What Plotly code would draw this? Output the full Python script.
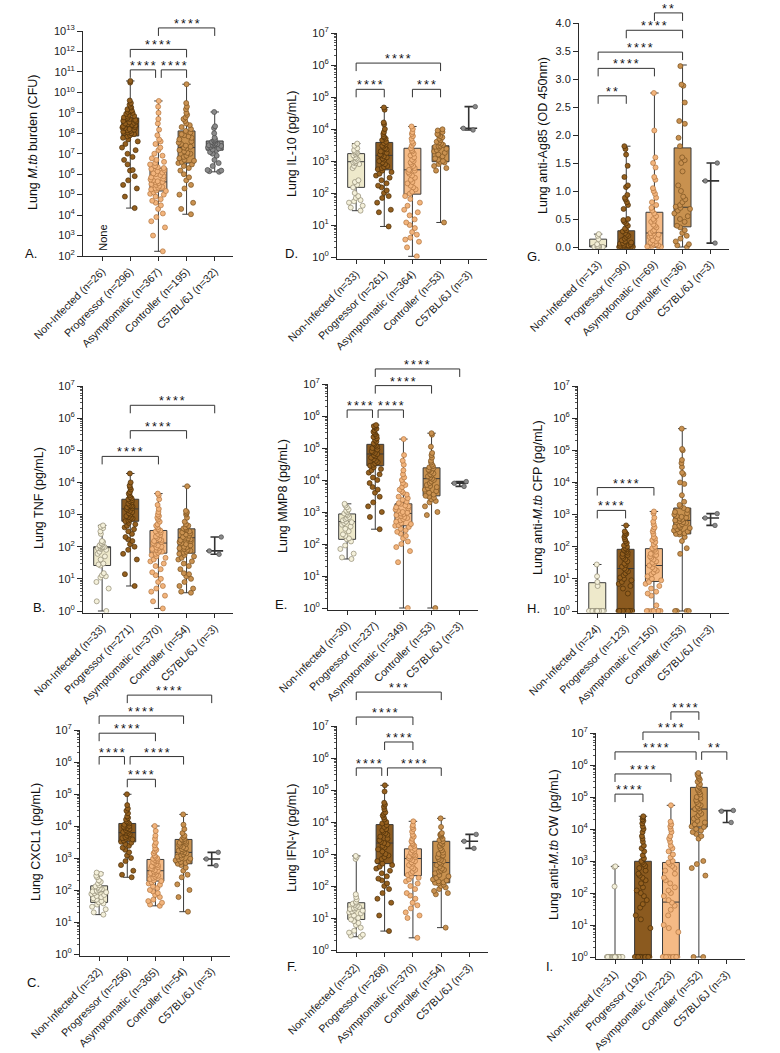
import math
import plotly.graph_objects as go

W, H = 780, 1053
FONT = "Arial, 'Liberation Sans', Helvetica, sans-serif"

# ---------------- category labels ----------------
A_labels = ["Non-Infected (n=26)", "Progressor (n=296)", "Asymptomatic (n=367)", "Controller (n=195)", "C57BL/6J (n=32)"]
B_labels = ["Non-Infected (n=33)", "Progressor (n=271)", "Asymptomatic (n=370)", "Controller (n=54)", "C57BL/6J (n=3)"]
C_labels = ["Non-Infected (n=32)", "Progressor (n=256)", "Asymptomatic (n=365)", "Controller (n=54)", "C57BL/6J (n=3)"]
D_labels = ["Non-Infected (n=33)", "Progressor (n=261)", "Asymptomatic (n=364)", "Controller (n=53)", "C57BL/6J (n=3)"]
E_labels = ["Non-Infected (n=30)", "Progressor (n=237)", "Asymptomatic (n=349)", "Controller (n=53)", "C57BL/6J (n=3)"]
F_labels = ["Non-Infected (n=32)", "Progressor (n=268)", "Asymptomatic (n=370)", "Controller (n=54)", "C57BL/6J (n=3)"]
G_labels = ["Non-Infected (n=13)", "Progressor (n=90)", "Asymptomatic (n=69)", "Controller (n=36)", "C57BL/6J (n=3)"]
H_labels = ["Non-Infected (n=24)", "Progressor (n=123)", "Asymptomatic (n=150)", "Controller (n=53)", "C57BL/6J (n=3)"]
I_labels = ["Non-Infected (n=31)", "Progressor (192)", "Asymptomatic (n=223)", "Controller (n=52)", "C57BL/6J (n=3)"]

# ---------------- box statistics: [Non, Prog, Asym, Ctrl, C57] ----------------
A_q1 = [None, 7.4e7, 1.5e5, 3.5e6, 1.5e7]
A_med = [None, 2.2e8, 4.2e5, 2.0e7, 2.6e7]
A_q3 = [None, 5.6e8, 2.0e6, 1.3e8, 4.2e7]
A_min = [None, 2.2e4, 1.7e2, 1.1e4, 1.3e6]
A_max = [None, 3.6e10, 3.8e9, 2.5e10, 1.1e9]

B_q1 = [26, 620, 63, 63, 74]
B_med = [95, 1500, 130, 190, 74]
B_q3 = [100, 3000, 320, 360, 74]
B_min = [1, 6, 1.2, 3.7, 58]
B_max = [460, 1.9e4, 4.5e3, 7.6e3, 200]

C_q1 = [41, 3.2e3, 190, 660, 930]
C_med = [89, 6.2e3, 400, 1.5e3, 930]
C_q3 = [135, 1.2e4, 900, 3.8e3, 930]
C_min = [17, 250, 32, 21, 580]
C_max = [350, 9.8e4, 1.0e4, 2.3e4, 1.5e3]

D_q1 = [150, 530, 92, 950, 1.05e4]
D_med = [950, 1.5e3, 530, 2.8e3, 1.05e4]
D_q3 = [1.7e3, 3.8e3, 2.5e3, 3.0e3, 1.05e4]
D_min = [28, 9, 1.05, 12, 9.3e3]
D_max = [3.5e3, 4.7e4, 1.2e4, 9.8e3, 5.0e4]

E_q1 = [140, 2.8e4, 370, 3.2e3, 7.9e3]
E_med = [500, 6.5e4, 900, 1.1e4, 7.9e3]
E_q3 = [870, 1.3e5, 1.8e3, 2.4e4, 7.9e3]
E_min = [34, 290, 1, 1, 6.3e3]
E_max = [1.8e3, 5.2e5, 1.9e5, 2.9e5, 8.9e3]

F_q1 = [9, 500, 210, 126, 2.5e3]
F_med = [20, 2.2e3, 720, 540, 2.5e3]
F_q3 = [30, 8.3e3, 1.45e3, 2.5e3, 2.5e3]
F_min = [2.6, 3.9, 2.4, 5, 1.5e3]
F_max = [870, 1.4e5, 1.05e4, 1.3e4, 4.1e3]

G_q1 = [0.0, 0.0, 0.0, 0.36, 1.18]
G_med = [0.01, 0.07, 0.25, 0.71, 1.18]
G_q3 = [0.14, 0.29, 0.62, 1.77, 1.18]
G_min = [0.0, 0.0, 0.0, 0.0, 0.07]
G_max = [0.23, 1.80, 2.75, 3.25, 1.50]

H_q1 = [1, 1, 8.3, 250, 780]
H_med = [1, 21, 26, 660, 780]
H_q3 = [7.6, 83, 87, 1.6e3, 780]
H_min = [1, 1, 1, 1, 460]
H_max = [28, 460, 1.25e3, 4.7e5, 1.07e3]

I_q1 = [1, 1, 1, 1.15e4, 3.7e4]
I_med = [1, 1, 52, 4.2e4, 3.7e4]
I_q3 = [1, 980, 900, 2.0e5, 3.7e4]
I_min = [1, 1, 1, 1, 1.6e4]
I_max = [680, 2.5e4, 5.5e4, 5.6e5, 3.8e4]

# ---------------- individual points (read approximately) ----------------
A_non = []
A_prog = [3.6e10, 3e10, 4e9, 3e9, 2.5e9, 2e9, 1.8e9, 1.5e9, 1.3e9, 1.2e9, 1.1e9, 1e9, 9e8, 8e8, 7e8, 6.5e8,
          6e8, 5.5e8, 5e8, 4.5e8, 4e8, 3.8e8, 3.5e8, 3.2e8, 3e8, 2.8e8, 2.6e8, 2.4e8, 2.2e8, 2e8, 1.9e8, 1.8e8,
          1.6e8, 1.5e8, 1.4e8, 1.3e8, 1.2e8, 1.1e8, 1e8, 9e7, 8e7, 7e7, 6e7, 5e7, 4e7, 3e7, 2e7, 1.5e7, 1e7,
          7e6, 5e6, 3e6, 1.6e6, 1.5e6, 8e5, 5e5, 3e5, 2e5, 8e4, 2.2e4]
A_asym = [3.8e9, 2e9, 1e9, 5e8, 3e8, 1.5e8, 8e7, 5e7, 4e7, 3e7, 2e7, 1.5e7, 1e7, 8e6, 6e6, 5e6, 4e6, 3.5e6,
          3e6, 2.5e6, 2.2e6, 2e6, 1.8e6, 1.6e6, 1.4e6, 1.2e6, 1.1e6, 1e6, 9e5, 8e5, 7e5, 6e5, 5.5e5, 5e5, 4.5e5,
          4.2e5, 4e5, 3.6e5, 3.3e5, 3e5, 2.7e5, 2.4e5, 2.2e5, 2e5, 1.8e5, 1.6e5, 1.5e5, 1.3e5, 1.1e5, 1e5, 8e4,
          6e4, 5e4, 4e4, 3e4, 2e4, 1.2e4, 8e3, 5e3, 2.5e3, 1e3, 1.7e2]
A_ctrl = [2.5e10, 3e9, 2e9, 1.5e9, 1e9, 8e8, 6e8, 5e8, 4e8, 3e8, 2.5e8, 2e8, 1.6e8, 1.3e8, 1.1e8, 9e7, 8e7,
          7e7, 6e7, 5e7, 4e7, 3.5e7, 3e7, 2.5e7, 2.2e7, 2e7, 1.8e7, 1.5e7, 1.3e7, 1.1e7, 1e7, 8e6, 7e6, 6e6,
          5e6, 4.5e6, 4e6, 3.5e6, 3e6, 2.5e6, 2e6, 1.5e6, 1e6, 7e5, 5e5, 3e5, 2e5, 1e5, 4e4, 2e4, 1.1e4]
A_c57 = [1.1e9, 2.2e8, 1.8e8, 1e8, 6e7, 5e7, 4.5e7, 4e7, 3.8e7, 3.5e7, 3.2e7, 3e7, 2.8e7, 2.7e7, 2.6e7, 2.5e7,
         2.4e7, 2.2e7, 2e7, 1.8e7, 1.6e7, 1.5e7, 1.2e7, 1e7, 8e6, 5e6, 3.5e6, 2.5e6, 1.6e6, 1.5e6, 1.4e6, 1.3e6]

B_non = [460, 420, 380, 300, 250, 150, 140, 130, 120, 110, 105, 100, 98, 95, 92, 90, 85, 80, 70, 60, 50, 40,
         30, 28, 26, 15, 13, 12, 11, 8, 5, 2, 1]
B_prog = [1.9e4, 1e4, 8e3, 7e3, 6e3, 5e3, 4.5e3, 4e3, 3.5e3, 3.2e3, 3e3, 2.8e3, 2.6e3, 2.4e3, 2.2e3, 2e3, 1.9e3,
          1.8e3, 1.7e3, 1.6e3, 1.5e3, 1.4e3, 1.3e3, 1.2e3, 1.1e3, 1e3, 900, 850, 800, 750, 700, 650, 620, 550,
          500, 450, 400, 350, 300, 250, 200, 170, 150, 120, 100, 80, 60, 40, 14, 6]
B_asym = [4.5e3, 4e3, 3e3, 2e3, 1.5e3, 1.2e3, 1e3, 900, 800, 700, 600, 500, 450, 400, 350, 320, 300, 280, 250,
          230, 210, 190, 170, 160, 150, 140, 130, 120, 110, 100, 95, 90, 85, 80, 75, 70, 65, 60, 55, 50, 45, 40,
          35, 30, 25, 20, 16, 13, 10, 8, 6, 5, 4, 3, 2, 1.2]
B_ctrl = [7.6e3, 1.3e3, 1.2e3, 1.1e3, 1e3, 800, 600, 500, 450, 400, 370, 350, 330, 300, 280, 260, 240, 220, 200,
          190, 180, 170, 160, 150, 140, 130, 120, 110, 100, 95, 90, 85, 80, 75, 70, 65, 60, 55, 50, 45, 40, 35,
          30, 25, 20, 15, 14, 12, 10, 8, 6, 5, 4, 3.7]
B_c57 = [200, 74, 58]

C_non = [350, 320, 280, 250, 200, 180, 160, 140, 130, 120, 110, 105, 100, 95, 90, 88, 85, 80, 75, 70, 65, 60,
         55, 50, 45, 41, 38, 35, 30, 25, 20, 17]
C_prog = [9.8e4, 4.5e4, 3.5e4, 3e4, 2.5e4, 2e4, 1.8e4, 1.6e4, 1.4e4, 1.3e4, 1.2e4, 1.1e4, 1e4, 9.5e3, 9e3,
          8.5e3, 8e3, 7.5e3, 7e3, 6.5e3, 6.2e3, 6e3, 5.5e3, 5e3, 4.5e3, 4.2e3, 4e3, 3.8e3, 3.5e3, 3.2e3, 3e3,
          2.7e3, 2.4e3, 2.1e3, 1.8e3, 1.5e3, 1.2e3, 1e3, 800, 600, 400, 300, 250]
C_asym = [1e4, 7e3, 5e3, 4e3, 3e3, 2.5e3, 2e3, 1.8e3, 1.6e3, 1.4e3, 1.2e3, 1.1e3, 1e3, 950, 900, 850, 800, 750,
          700, 650, 600, 560, 520, 480, 450, 420, 400, 380, 360, 340, 320, 300, 280, 260, 240, 220, 200, 190,
          175, 160, 145, 130, 115, 100, 90, 80, 70, 60, 50, 45, 40, 35, 32]
C_ctrl = [2.3e4, 1.1e4, 8e3, 6e3, 5e3, 4.5e3, 4e3, 3.8e3, 3.6e3, 3.4e3, 3.2e3, 3e3, 2.8e3, 2.6e3, 2.4e3, 2.2e3,
          2e3, 1.9e3, 1.8e3, 1.7e3, 1.6e3, 1.5e3, 1.4e3, 1.3e3, 1.2e3, 1.1e3, 1e3, 950, 900, 850, 800, 750, 700,
          660, 600, 500, 400, 300, 250, 150, 100, 60, 21]
C_c57 = [1.5e3, 930, 580]

D_non = [3.5e3, 3e3, 2.5e3, 2.2e3, 2e3, 1.9e3, 1.8e3, 1.7e3, 1.6e3, 1.5e3, 1.3e3, 1.2e3, 1.1e3, 1e3, 950, 900,
         850, 800, 700, 600, 250, 220, 180, 150, 100, 80, 70, 60, 55, 50, 40, 35, 28]
D_prog = [4.7e4, 4e4, 1.6e4, 1.4e4, 1e4, 8e3, 7e3, 6e3, 5.5e3, 5e3, 4.5e3, 4e3, 3.6e3, 3.3e3, 3e3, 2.8e3, 2.5e3,
          2.3e3, 2e3, 1.8e3, 1.6e3, 1.5e3, 1.4e3, 1.3e3, 1.2e3, 1.1e3, 1e3, 900, 800, 700, 650, 600, 550, 500,
          450, 400, 350, 300, 250, 200, 170, 150, 120, 100, 80, 70, 50, 30, 25, 9]
D_asym = [1.2e4, 1e4, 8e3, 7e3, 6e3, 5e3, 4e3, 3.5e3, 3e3, 2.5e3, 2.2e3, 2e3, 1.7e3, 1.5e3, 1.3e3, 1.1e3, 1e3,
          900, 800, 700, 600, 530, 500, 450, 400, 350, 300, 260, 220, 200, 170, 150, 130, 110, 95, 80, 65, 50,
          40, 30, 25, 20, 15, 12, 10, 8, 6, 5, 4, 3.5, 3, 2, 1.05]
D_ctrl = [9.8e3, 9e3, 8e3, 7e3, 6.5e3, 6e3, 5.5e3, 5e3, 4.5e3, 4e3, 3.8e3, 3.5e3, 3.2e3, 3e3, 2.9e3, 2.8e3,
          2.6e3, 2.4e3, 2.2e3, 2e3, 1.8e3, 1.6e3, 1.4e3, 1.2e3, 1.1e3, 1e3, 950, 900, 800, 700, 600, 500, 12]
D_c57 = [5e4, 1.05e4, 9.3e3]

E_non = [1.8e3, 1.6e3, 1.4e3, 1.2e3, 1.1e3, 1e3, 900, 850, 800, 700, 650, 600, 550, 500, 480, 450, 400, 350,
         300, 250, 200, 180, 150, 140, 120, 90, 70, 50, 38, 34]
E_prog = [5.2e5, 4.8e5, 4.5e5, 4e5, 3.6e5, 3.2e5, 3e5, 2.7e5, 2.4e5, 2.2e5, 2e5, 1.8e5, 1.6e5, 1.4e5, 1.3e5,
          1.2e5, 1.1e5, 1e5, 9e4, 8e4, 7.5e4, 7e4, 6.5e4, 6e4, 5.5e4, 5e4, 4.5e4, 4e4, 3.6e4, 3.3e4, 3e4, 2.8e4,
          2.5e4, 2.2e4, 2e4, 1.7e4, 1.5e4, 1.2e4, 1e4, 8e3, 6e3, 5e3, 4e3, 3e3, 2e3, 1.5e3, 1e3, 700, 290]
E_asym = [1.9e5, 6e4, 4e4, 3e4, 2e4, 1.5e4, 1.2e4, 1e4, 8e3, 7e3, 6e3, 5e3, 4.5e3, 4e3, 3.5e3, 3e3, 2.7e3, 2.4e3,
          2.1e3, 1.9e3, 1.8e3, 1.6e3, 1.5e3, 1.4e3, 1.3e3, 1.2e3, 1.1e3, 1e3, 950, 900, 850, 800, 750, 700, 650,
          600, 550, 500, 450, 420, 390, 370, 340, 300, 270, 240, 210, 180, 150, 120, 100, 80, 60, 27, 1]
E_ctrl = [2.9e5, 2.6e5, 1.1e5, 7e4, 6e4, 5e4, 4e4, 3.5e4, 3e4, 2.7e4, 2.5e4, 2.3e4, 2.1e4, 2e4, 1.8e4, 1.6e4,
          1.5e4, 1.4e4, 1.3e4, 1.2e4, 1.1e4, 1e4, 9e3, 8e3, 7e3, 6.5e3, 6e3, 5.5e3, 5e3, 4.5e3, 4e3, 3.5e3,
          3.2e3, 3e3, 2.8e3, 2.5e3, 2.2e3, 2e3, 1.5e3, 1e3, 800, 1]
E_c57 = [8.9e3, 7.9e3, 6.3e3]

F_non = [870, 800, 700, 55, 45, 38, 32, 30, 28, 26, 24, 22, 21, 20, 19, 18, 17, 16, 15, 14, 12, 10, 9, 8, 7, 6,
         5, 4, 3.5, 3, 2.8, 2.6]
F_prog = [1.4e5, 9e4, 4e4, 3.5e4, 3e4, 2.5e4, 2e4, 1.8e4, 1.6e4, 1.4e4, 1.2e4, 1e4, 9e3, 8e3, 7e3, 6e3, 5.5e3,
          5e3, 4.5e3, 4e3, 3.5e3, 3e3, 2.7e3, 2.4e3, 2.2e3, 2e3, 1.8e3, 1.6e3, 1.4e3, 1.2e3, 1e3, 900, 800, 700,
          600, 500, 450, 400, 350, 300, 250, 200, 170, 150, 120, 100, 80, 60, 40, 30, 12, 3.9]
F_asym = [1.05e4, 8e3, 7e3, 6e3, 5e3, 4e3, 3.5e3, 3e3, 2.5e3, 2.2e3, 2e3, 1.8e3, 1.6e3, 1.45e3, 1.3e3, 1.2e3,
          1.1e3, 1e3, 950, 900, 850, 800, 750, 700, 650, 600, 550, 500, 450, 400, 360, 320, 280, 250, 220, 200,
          180, 160, 140, 120, 100, 80, 60, 50, 40, 30, 25, 20, 15, 12, 10, 2.4]
F_ctrl = [1.3e4, 7e3, 4.5e3, 4.2e3, 4e3, 3.8e3, 3.5e3, 3e3, 2.7e3, 2.5e3, 2.2e3, 2e3, 1.8e3, 1.5e3, 1.3e3, 1.1e3,
          1e3, 900, 800, 700, 650, 600, 540, 500, 450, 400, 350, 320, 300, 280, 250, 220, 200, 180, 160, 150,
          140, 130, 126, 120, 110, 100, 90, 80, 70, 60, 55, 5]
F_c57 = [4.1e3, 2.5e3, 1.5e3]

G_non = [0.23, 0.20, 0.14, 0.05, 0.02, 0.01, 0.01, 0.0, 0.0, 0.0, 0.0, 0.0, 0.0]
G_prog = [1.8, 1.75, 1.65, 1.45, 1.25, 1.1, 1.07, 0.93, 0.88, 0.85, 0.8, 0.75, 0.68, 0.5, 0.48, 0.45, 0.42,
          0.38, 0.33, 0.3, 0.28, 0.25, 0.22, 0.2, 0.18, 0.15, 0.12, 0.1, 0.08, 0.07, 0.06, 0.05, 0.04, 0.03,
          0.02, 0.02, 0.01, 0.01, 0.0, 0.0, 0.0, 0.0, 0.0, 0.0]
G_asym = [2.75, 2.08, 1.6, 1.5, 1.42, 1.25, 1.2, 1.05, 1.0, 0.95, 0.88, 0.8, 0.75, 0.7, 0.65, 0.6, 0.55, 0.5,
          0.47, 0.45, 0.4, 0.38, 0.35, 0.3, 0.28, 0.25, 0.24, 0.22, 0.2, 0.18, 0.15, 0.12, 0.1, 0.08, 0.06,
          0.05, 0.04, 0.03, 0.02, 0.01, 0.0, 0.0, 0.0]
G_ctrl = [3.23, 2.9, 2.88, 2.58, 2.25, 2.2, 1.95, 1.8, 1.6, 1.55, 1.5, 1.35, 1.1, 1.0, 0.9, 0.85, 0.8, 0.75,
          0.72, 0.7, 0.68, 0.65, 0.6, 0.55, 0.5, 0.45, 0.38, 0.35, 0.3, 0.25, 0.2, 0.15, 0.1, 0.05, 0.03, 0.0]
G_c57 = [1.5, 1.18, 0.07]

H_non = [28, 12, 8, 6, 1, 1, 1, 1, 1, 1, 1, 1, 1, 1, 1, 1, 1, 1, 1, 1, 1, 1, 1, 1]
H_prog = [460, 300, 270, 250, 230, 200, 170, 150, 130, 110, 100, 90, 85, 80, 75, 70, 65, 60, 55, 50, 45, 40, 35,
          30, 27, 24, 21, 19, 17, 15, 13, 11, 10, 9, 8, 7, 6, 5, 3.5, 1, 1, 1, 1, 1, 1, 1, 1, 1, 1]
H_asym = [1.25e3, 1.1e3, 800, 600, 500, 400, 350, 300, 250, 200, 180, 160, 140, 120, 100, 90, 85, 80, 70, 60,
          55, 50, 45, 40, 35, 32, 29, 26, 23, 20, 18, 16, 14, 12, 10, 9, 8, 7, 6, 5, 4, 3.5, 3, 1.5, 1, 1, 1, 1,
          1, 1, 1]
H_ctrl = [4.7e5, 1.1e5, 1e5, 5e4, 4e4, 3e4, 2e4, 1.8e4, 1e4, 9e3, 4e3, 2.5e3, 2e3, 1.8e3, 1.6e3, 1.4e3, 1.2e3,
          1.1e3, 1e3, 900, 850, 800, 750, 700, 660, 620, 580, 550, 500, 450, 420, 400, 380, 350, 320, 300, 280,
          260, 250, 240, 200, 150, 90, 60, 1, 1, 1, 1]
H_c57 = [1.07e3, 780, 460]

I_non = [680, 650, 160, 1, 1, 1, 1, 1, 1, 1, 1, 1, 1, 1, 1, 1, 1, 1, 1, 1, 1, 1, 1, 1, 1, 1, 1, 1, 1, 1, 1]
I_prog = [2.5e4, 2.3e4, 2e4, 1.8e4, 1.5e4, 1.2e4, 1e4, 8e3, 6e3, 5e3, 4e3, 3e3, 2.5e3, 2e3, 1.5e3, 1.2e3, 1e3,
          900, 800, 700, 600, 500, 400, 350, 300, 250, 200, 150, 120, 100, 80, 60, 45, 35, 20, 15, 8,
          1, 1, 1, 1, 1, 1, 1, 1, 1, 1, 1, 1, 1, 1, 1]
I_asym = [5.5e4, 1.7e4, 1.4e4, 1.2e4, 1e4, 8e3, 6e3, 5e3, 4e3, 3e3, 2.5e3, 2e3, 1.6e3, 1.3e3, 1e3, 900, 800, 700,
          600, 500, 400, 300, 250, 200, 150, 120, 100, 80, 60, 50, 40, 30, 20, 10, 8, 6,
          1, 1, 1, 1, 1, 1, 1, 1, 1, 1, 1, 1, 1, 1, 1]
I_ctrl = [5.6e5, 5e5, 4.5e5, 4e5, 3.5e5, 3e5, 2.5e5, 2.2e5, 2e5, 1.8e5, 1.6e5, 1.4e5, 1.2e5, 1e5, 9e4, 8e4, 7e4,
          6e4, 5.5e4, 5e4, 4.5e4, 4.2e4, 4e4, 3.5e4, 3e4, 2.7e4, 2.4e4, 2.1e4, 1.8e4, 1.6e4, 1.4e4, 1.2e4,
          1.15e4, 1e4, 9e3, 8e3, 7e3, 6e3, 5e3, 1e3, 800, 600, 350, 1, 1]
I_c57 = [3.8e4, 3.6e4, 1.6e4]

# ---------------- significance brackets: (from, to, level in axis units, stars, inset_left, inset_right) ----
A_sig = [(1, 2, 11.1, "****", 0, 0.1), (2, 3, 11.1, "****", 0.1, 0), (1, 3, 12.1, "****", 0, 0), (2, 4, 13.15, "****", 0, 0)]
B_sig = [(0, 2, 4.81, "****", 0, 0), (1, 3, 5.61, "****", 0, 0), (1, 4, 6.40, "****", 0, 0)]
C_sig = [(0, 1, 6.17, "****", 0, 0.1), (1, 3, 6.17, "****", 0.1, 0), (1, 2, 5.46, "****", 0, 0),
         (0, 2, 6.90, "****", 0, 0), (0, 3, 7.44, "****", 0, 0), (1, 4, 8.09, "****", 0, 0)]
D_sig = [(0, 1, 5.24, "****", 0, 0), (2, 3, 5.24, "***", 0, 0), (0, 3, 6.06, "****", 0, 0)]
E_sig = [(0, 1, 6.19, "****", 0, 0.1), (1, 2, 6.19, "****", 0.1, 0), (1, 3, 6.95, "****", 0, 0), (1, 4, 7.47, "****", 0, 0)]
F_sig = [(0, 1, 5.69, "****", 0, 0.1), (1, 3, 5.69, "****", 0.1, 0), (1, 2, 6.50, "****", 0, 0),
         (0, 2, 7.28, "****", 0, 0), (0, 3, 8.06, "***", 0, 0)]
G_sig = [(0, 1, 2.70, "**", 0, 0), (0, 2, 3.19, "****", 0, 0), (0, 3, 3.48, "****", 0, 0),
         (1, 3, 3.87, "****", 0, 0), (2, 3, 4.18, "**", 0, 0)]
H_sig = [(0, 1, 3.13, "****", 0, 0), (0, 2, 3.84, "****", 0, 0)]
I_sig = [(0, 1, 5.09, "****", 0, 0), (0, 2, 5.72, "****", 0, 0), (0, 3, 6.41, "****", 0, 0.1),
         (3, 4, 6.41, "**", 0.1, 0), (1, 3, 7.03, "****", 0, 0), (2, 3, 7.66, "****", 0, 0)]

# ---------------- styles ----------------
BOX_FILL = ["#EEE9CB", "#8B5A1F", "#F5BA85", "#C8914F", "#8C8C8C"]
PT_FILL = ["#F4F0DA", "#95601F", "#F2B47C", "#C99150", "#8A8A8A"]
PT_EDGE = ["#8F8A72", "#4A2E08", "#B27640", "#7A5220", "#4A4A4A"]

PANELS = [
    dict(name="A", x0=83, x1=233, ytop=31, ybot=256, log=True, lo=2, hi=13, pad=0.0,
         title="Lung <i>M.tb</i> burden (CFU)", tpos=(33, 143), letter=(31, 254), minor=False),
    dict(name="B", x0=83, x1=233, ytop=386, ybot=611, log=True, lo=0, hi=7, pad=0.05,
         title="Lung TNF (pg/mL)", tpos=(39, 498), letter=(39, 607), minor=True),
    dict(name="C", x0=80, x1=230, ytop=730, ybot=954, log=True, lo=0, hi=7, pad=0.05,
         title="Lung CXCL1 (pg/mL)", tpos=(36, 842), letter=(33, 982), minor=True),
    dict(name="D", x0=337, x1=487, ytop=33, ybot=257, log=True, lo=0, hi=7, pad=0.05,
         title="Lung IL-10 (pg/mL)", tpos=(292, 144), letter=(291, 253), minor=True),
    dict(name="E", x0=328, x1=478, ytop=384, ybot=608, log=True, lo=0, hi=7, pad=0.05,
         title="Lung MMP8 (pg/mL)", tpos=(283, 496), letter=(281, 604), minor=True),
    dict(name="F", x0=337, x1=488, ytop=726, ybot=950, log=True, lo=0, hi=7, pad=0.05,
         title="Lung IFN-γ (pg/mL)", tpos=(292, 838), letter=(292, 967), minor=True),
    dict(name="G", x0=579, x1=729, ytop=23, ybot=247, log=False, lo=0, hi=4, pad=0.03,
         title="Lung anti-Ag85 (OD 450nm)", tpos=(543, 136), letter=(534, 256), minor=False),
    dict(name="H", x0=578, x1=729, ytop=386, ybot=611, log=True, lo=0, hi=7, pad=0.05,
         title="Lung anti-<i>M.tb</i> CFP (pg/mL)", tpos=(538, 498), letter=(533, 608), minor=True),
    dict(name="I", x0=596, x1=745, ytop=733, ybot=957, log=True, lo=0, hi=7, pad=0.05,
         title="Lung anti-<i>M.tb</i> CW (pg/mL)", tpos=(554, 845), letter=(549, 967), minor=True),
]

DATA = {
    "A": (A_labels, A_q1, A_med, A_q3, A_min, A_max, [A_non, A_prog, A_asym, A_ctrl, A_c57], A_sig),
    "B": (B_labels, B_q1, B_med, B_q3, B_min, B_max, [B_non, B_prog, B_asym, B_ctrl, B_c57], B_sig),
    "C": (C_labels, C_q1, C_med, C_q3, C_min, C_max, [C_non, C_prog, C_asym, C_ctrl, C_c57], C_sig),
    "D": (D_labels, D_q1, D_med, D_q3, D_min, D_max, [D_non, D_prog, D_asym, D_ctrl, D_c57], D_sig),
    "E": (E_labels, E_q1, E_med, E_q3, E_min, E_max, [E_non, E_prog, E_asym, E_ctrl, E_c57], E_sig),
    "F": (F_labels, F_q1, F_med, F_q3, F_min, F_max, [F_non, F_prog, F_asym, F_ctrl, F_c57], F_sig),
    "G": (G_labels, G_q1, G_med, G_q3, G_min, G_max, [G_non, G_prog, G_asym, G_ctrl, G_c57], G_sig),
    "H": (H_labels, H_q1, H_med, H_q3, H_min, H_max, [H_non, H_prog, H_asym, H_ctrl, H_c57], H_sig),
    "I": (I_labels, I_q1, I_med, I_q3, I_min, I_max, [I_non, I_prog, I_asym, I_ctrl, I_c57], I_sig),
}

XR = [-0.68, 4.65]
LINE = "#2a2a2a"
STAR_SEP = "\u2006"

fig = go.Figure()
layout = dict(template="none", width=W, height=H, margin=dict(l=0, r=0, t=0, b=0, pad=0),
              autosize=False, paper_bgcolor="white", plot_bgcolor="white", showlegend=False,
              boxmode="overlay", font=dict(family=FONT, color="#111"))
shapes, annos = [], []

for k, p in enumerate(PANELS, start=1):
    labels, q1, med, q3, mn, mx, pts, sig = DATA[p["name"]]
    sx = "" if k == 1 else str(k)
    xa, ya = "x" + sx, "y" + sx
    ppu = (p["ybot"] - p["ytop"]) / (p["hi"] - p["lo"])
    ybot_px = p["ybot"] + p["pad"] * ppu
    ylo = p["lo"] - p["pad"]

    def xpx(c, p=p):
        return p["x0"] + (c - XR[0]) / (XR[1] - XR[0]) * (p["x1"] - p["x0"])

    def ypx(v, p=p, ppu=ppu):
        return p["ytop"] + (p["hi"] - v) * ppu

    layout["xaxis" + sx] = dict(
        domain=[p["x0"] / W, p["x1"] / W], range=XR, anchor=ya, automargin=False, tickmode="array",
        tickvals=[0, 1, 2, 3, 4], ticktext=labels, tickangle=-45, ticks="outside", ticklen=4,
        tickwidth=1, tickcolor=LINE, showline=True, linecolor=LINE, linewidth=1, showgrid=False,
        zeroline=False, tickfont=dict(size=10.7, color="#222", family=FONT), fixedrange=True)
    yax = dict(domain=[1 - ybot_px / H, 1 - p["ytop"] / H], anchor=xa, automargin=False,
               ticks="outside", ticklen=5, tickwidth=1, tickcolor=LINE, showline=True,
               linecolor=LINE, linewidth=1, showgrid=False, zeroline=False,
               tickfont=dict(size=11, color="#222", family=FONT), fixedrange=True)
    if p["log"]:
        decades = list(range(p["lo"], p["hi"] + 1))
        yax.update(type="log", range=[ylo, p["hi"]], tickmode="array",
                   tickvals=[10 ** d for d in decades],
                   ticktext=["10<sup>%d</sup>" % d for d in decades])
        if p["minor"]:
            yax["minor"] = dict(tickmode="array", ticks="outside", ticklen=2.5, tickwidth=0.8,
                                tickcolor=LINE, showgrid=False,
                                tickvals=[m * 10 ** d for d in decades[:-1] for m in range(2, 10)])
    else:
        yax.update(type="linear", range=[ylo, p["hi"]], tickmode="linear", tick0=0, dtick=0.5,
                   tickformat=".1f")
    layout["yaxis" + sx] = yax

    for i in range(5):
        if q1[i] is None:
            continue
        c57 = (i == 4 and p["name"] != "A")
        fig.add_trace(go.Box(
            x=[i], q1=[q1[i]], median=[med[i]], q3=[q3[i]], lowerfence=[mn[i]], upperfence=[mx[i]],
            width=0.6, whiskerwidth=0.5, boxpoints=False,
            fillcolor="rgba(0,0,0,0)" if c57 else BOX_FILL[i],
            line=dict(color="#333" if c57 else "#3a3a3a", width=1.6 if c57 else 1),
            xaxis=xa, yaxis=ya, hoverinfo="skip"))
        vals = pts[i]
        if vals:
            fig.add_trace(go.Box(
                x=[i] * len(vals), y=vals, boxpoints="all", jitter=1.0, pointpos=0, width=0.6,
                whiskerwidth=0, fillcolor="rgba(0,0,0,0)",
                line=dict(color="rgba(0,0,0,0)", width=0),
                marker=dict(size=4.5 if c57 else 5, color=PT_FILL[i],
                            line=dict(color=PT_EDGE[i], width=0.7)),
                xaxis=xa, yaxis=ya, hoverinfo="skip"))

    for (a, b, lev, txt, il, ir) in sig:
        xl, xr_ = xpx(a + il), xpx(b - ir)
        yl = ypx(lev)
        path = "M %f %f L %f %f L %f %f L %f %f" % (
            xl / W, 1 - (yl + 8) / H, xl / W, 1 - yl / H, xr_ / W, 1 - yl / H, xr_ / W, 1 - (yl + 8) / H)
        shapes.append(dict(type="path", path=path, xref="paper", yref="paper",
                           line=dict(color="#333", width=1)))
        annos.append(dict(x=(xl + xr_) / 2 / W, y=1 - yl / H, xref="paper", yref="paper",
                          text=STAR_SEP.join(txt), showarrow=False, xanchor="center", yanchor="bottom",
                          yshift=-4, borderpad=0, font=dict(size=12.5, color="#111", family=FONT)))

    annos.append(dict(x=p["tpos"][0] / W, y=1 - p["tpos"][1] / H, xref="paper", yref="paper",
                      text=p["title"], textangle=-90, showarrow=False, xanchor="center",
                      yanchor="middle", font=dict(size=12.5, color="#111", family=FONT)))
    annos.append(dict(x=p["letter"][0] / W, y=1 - p["letter"][1] / H, xref="paper", yref="paper",
                      text=p["name"] + ".", showarrow=False, xanchor="center", yanchor="middle",
                      font=dict(size=13, color="#111", family=FONT)))

annos.append(dict(x=0, y=2.9, xref="x", yref="y", text="None", textangle=-90, showarrow=False,
                  xanchor="center", yanchor="middle",
                  font=dict(size=11, color="#111", family=FONT)))

layout["shapes"] = shapes
layout["annotations"] = annos
fig.update_layout(**layout)
fig.write_html("out.html", config={"displayModeBar": False, "staticPlot": True},
               post_script="document.body.style.margin='0px';document.body.style.padding='0px';"
                           "document.documentElement.style.overflow='hidden';")
